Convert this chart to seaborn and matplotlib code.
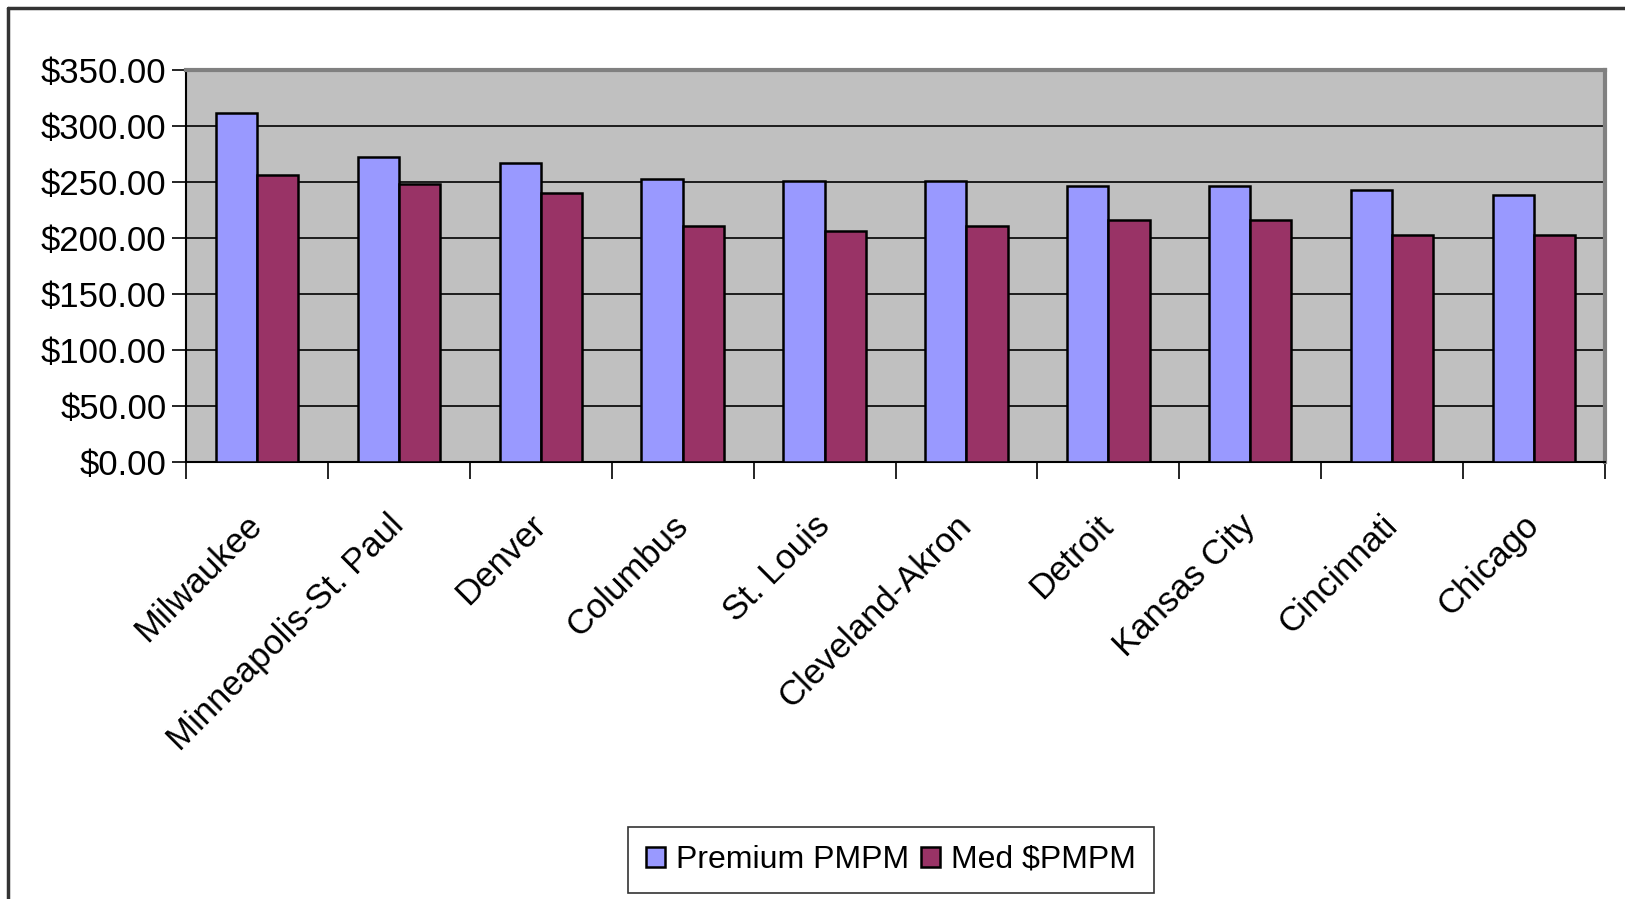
import matplotlib
matplotlib.use("Agg")
import matplotlib.pyplot as plt
from matplotlib.lines import Line2D
from matplotlib.ticker import FuncFormatter, MultipleLocator, FixedLocator
import seaborn as sns
import pandas as pd

cities = ["Milwaukee", "Minneapolis-St. Paul", "Denver", "Columbus", "St. Louis",
          "Cleveland-Akron", "Detroit", "Kansas City", "Cincinnati", "Chicago"]
premium_pmpm = [312, 272, 267, 253, 251, 251, 246, 246, 243, 238]
med_pmpm = [256, 248, 240, 211, 206, 211, 216, 216, 203, 203]
series_names = ["Premium PMPM", "Med $PMPM"]
series_colors = ["#9999FF", "#993366"]

df = pd.DataFrame({
    "city": cities * 2,
    "value": premium_pmpm + med_pmpm,
    "series": [series_names[0]] * len(cities) + [series_names[1]] * len(cities),
})

sns.set_theme(style="white")
plt.rcParams["font.family"] = ["Liberation Sans", "DejaVu Sans"]
plt.rcParams["text.color"] = "black"
plt.rcParams["xtick.color"] = "black"
plt.rcParams["ytick.color"] = "black"
plt.rcParams["axes.labelcolor"] = "black"

fig = plt.figure(figsize=(16.25, 8.99), dpi=100)
ax = fig.add_axes([186 / 1625, 1 - 462 / 899, (1605 - 186) / 1625, (462 - 70) / 899])
ax.set_facecolor("#C0C0C0")

sns.barplot(data=df, x="city", y="value", hue="series", order=cities,
            hue_order=series_names, palette=series_colors, width=0.58, gap=0,
            edgecolor="black", linewidth=1.8, saturation=1, ax=ax, zorder=3)

ax.set_ylim(0, 350)
ax.set_xlim(-0.5, len(cities) - 0.5)
ax.yaxis.set_major_locator(MultipleLocator(50))
ax.yaxis.set_major_formatter(FuncFormatter(lambda v, p: f"${v:.2f}"))
ax.grid(axis="y", color="black", linewidth=1.2, zorder=1)
ax.grid(axis="x", visible=False)
ax.set_axisbelow(True)

ax.set_xlabel("")
ax.set_ylabel("")

# category separators on the x axis
ax.xaxis.set_minor_locator(FixedLocator([i - 0.5 for i in range(len(cities) + 1)]))
ax.tick_params(axis="x", which="major", bottom=True, length=0, pad=42, labelsize=25,
               labelcolor="black")
ax.tick_params(axis="x", which="minor", bottom=True, length=12, width=1.2, color="black",
               direction="out")
ax.tick_params(axis="y", which="major", left=True, length=10, width=1.2, color="black",
               direction="out", labelsize=25, pad=4, labelcolor="black")
for lbl in ax.get_xticklabels():
    lbl.set_rotation(45)
    lbl.set_ha("right")
    lbl.set_rotation_mode("anchor")
    lbl.set_va("center")

for side in ["left", "bottom"]:
    ax.spines[side].set_color("black")
    ax.spines[side].set_linewidth(1.5)
for side in ["top", "right"]:
    ax.spines[side].set_color("#808080")
    ax.spines[side].set_linewidth(3)

ax.legend_.remove()
handles = [plt.Rectangle((0, 0), 1, 1, facecolor=c, edgecolor="black", linewidth=1.8)
           for c in series_colors]
leg = fig.legend(handles, series_names, loc="center", bbox_to_anchor=(891 / 1625, 1 - 860 / 899),
                 ncol=2, fontsize=23, frameon=True, fancybox=False, edgecolor="black",
                 handlelength=0.6, handleheight=0.6, handletextpad=0.35, columnspacing=0.35,
                 borderpad=0.55, borderaxespad=0)
leg.get_frame().set_linewidth(1.2)
for t in leg.get_texts():
    t.set_color("black")

# outer chart frame (left and top edges)
fig.add_artist(Line2D([8 / 1625, 8 / 1625], [0, 1 - 8 / 899], color="#333333", linewidth=2.5,
                      transform=fig.transFigure))
fig.add_artist(Line2D([8 / 1625, 1], [1 - 8 / 899, 1 - 8 / 899], color="#333333", linewidth=2.5,
                      transform=fig.transFigure))

fig.savefig("out.png", dpi=100)
